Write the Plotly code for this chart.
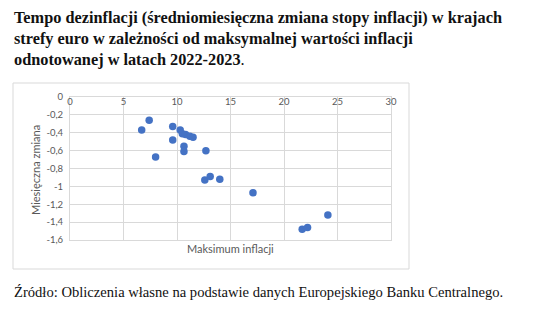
import plotly.graph_objects as go

# Data: maximum inflation (x) vs average monthly change (y)
max_inflation = [6.7, 7.4, 8.0, 9.6, 9.6, 10.3, 10.5, 10.8, 11.2, 11.5, 10.65, 10.65,
                 12.7, 12.6, 13.1, 14.0, 17.1, 24.1, 21.7, 22.2]
monthly_change = [-0.37, -0.26, -0.67, -0.33, -0.48, -0.37, -0.41, -0.42, -0.44, -0.45,
                  -0.55, -0.61, -0.60, -0.93, -0.89, -0.92, -1.07, -1.32, -1.48, -1.46]
x_ticks = [0, 5, 10, 15, 20, 25, 30]
y_ticks = [0, -0.2, -0.4, -0.6, -0.8, -1.0, -1.2, -1.4, -1.6]
y_tick_text = ["0", "-0,2", "-0,4", "-0,6", "-0,8", "-1", "-1,2", "-1,4", "-1,6"]

W, H = 536, 332
L, R, T, B = 70, 391, 97, 240

def fx(px):
    return (px - L) / (R - L)

def fy(py):
    return 1 - (py - T) / (B - T)

fig = go.Figure()
fig.add_trace(go.Scatter(
    x=max_inflation, y=monthly_change, mode="markers",
    marker=dict(size=7.5, color="#4472c4", line=dict(width=0)),
    showlegend=False, hoverinfo="x+y", cliponaxis=False,
))

grid = "#d9d9d9"
tick_font = dict(family="Lato, 'Open Sans', sans-serif", size=9.5, color="#595959")
fig.update_layout(
    width=W, height=H,
    margin=dict(l=L, r=W - R, t=T, b=H - B),
    paper_bgcolor="white", plot_bgcolor="white",
    xaxis=dict(range=[0, 30], tickvals=x_ticks, side="top", ticklabelposition="inside",
               ticklabeloverflow="allow",
               showgrid=True, gridcolor=grid, gridwidth=1, zeroline=False,
               showline=True, linecolor=grid, mirror=True, ticks="",
               tickfont=tick_font, fixedrange=True),
    yaxis=dict(range=[-1.6, 0], tickvals=y_ticks, ticktext=y_tick_text,
               ticklabeloverflow="allow", ticklabelstandoff=4,
               showgrid=True, gridcolor=grid, gridwidth=1, zeroline=False,
               showline=True, linecolor=grid, mirror=True, ticks="",
               tickfont=tick_font, fixedrange=True),
    shapes=[dict(type="rect", xref="paper", yref="paper",
                 x0=fx(13), x1=fx(409), y0=fy(269), y1=fy(83),
                 line=dict(color="#d9d9d9", width=1), layer="below")],
    annotations=[
        dict(text="<b>Tempo dezinflacji (średniomiesięczna zmiana stopy inflacji) w krajach<br>"
                  "strefy euro w zależności od maksymalnej wartości inflacji<br>"
                  "odnotowanej w latach 2022-2023</b>.",
             xref="paper", yref="paper", x=fx(12), y=fy(6), xanchor="left", yanchor="top",
             align="left", showarrow=False,
             font=dict(family="'Liberation Serif', 'DejaVu Serif', serif", size=16.3, color="#111111")),
        dict(text="Źródło: Obliczenia własne na podstawie danych Europejskiego Banku Centralnego.",
             xref="paper", yref="paper", x=fx(12), y=fy(292), xanchor="left", yanchor="middle",
             showarrow=False,
             font=dict(family="'Liberation Serif', 'DejaVu Serif', serif", size=14.6, color="#111111")),
        dict(text="Maksimum inflacji", xref="paper", yref="paper", x=fx(231), y=fy(248),
             xanchor="center", yanchor="middle", showarrow=False,
             font=dict(family="Lato, 'Open Sans', sans-serif", size=11, color="#595959")),
        dict(text="Miesięczna zmiana", xref="paper", yref="paper", x=fx(35), y=fy(170),
             xanchor="center", yanchor="middle", showarrow=False, textangle=-90,
             font=dict(family="Lato, 'Open Sans', sans-serif", size=11, color="#595959")),
    ],
)
fig.write_html("out.html")
